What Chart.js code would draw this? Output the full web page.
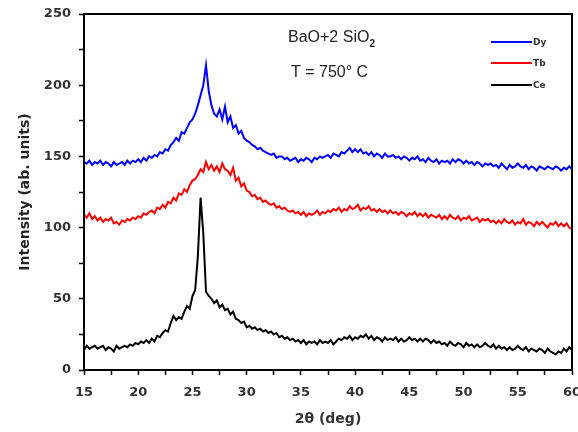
<!DOCTYPE html>
<html><head><meta charset="utf-8">
<script src="https://cdn.jsdelivr.net/npm/chart.js@4"></script>
</head><body style="margin:0"><canvas id="c" width="578" height="432"></canvas>
<script>
// 2θ sampling grid (deg)
const xStart = 15, xStep = 0.25, nPts = 181;
const seriesNames = ["Dy", "Tb", "Ce"];
const seriesColors = ["#0000ff", "#ff0000", "#000000"];
const xTickLabels = [15,20,25,30,35,40,45,50,55,60];
const yTickLabels = [0,50,100,150,200,250];
const xMinorStep = 2.5, yMinorStep = 25;

const dy = [146,145,147,144,146,145,147,144,146,
145,143,146,144,145,146,144,147,
145,147,146,148,146,149,147,150,
149,151,150,153, 152,155,154,158, 160,163,161,167, 166,170,174,176,
180,186,193,200, 214,196,186,180, 178,183,176,185, 174,178,170,172,
166,168,163,161, 160,158,157,155, 156,154,153,152, 151,152,149,150,
150,148,149,147, 148,149,146,148, 147,149,148,146, 149,148,150,149,
150,151,149,152, 151,150,153,152, 154,156,153,155, 153,155,152,153,
151,153,150,152, 151,149,152,150, 150,151,149,150, 148,150,149,147,
149,148,150,147, 148,146,149,147, 146,148,145,147, 146,147,145,148,
146,148,147,145, 147,145,146,144, 146,145,143,145, 144,145,143,144,
142,145,143,141, 144,142,143,145, 143,142,144,141, 143,142,140,143,
142,141,143,142, 141,143,142,140, 142,141,143,141];

const tb = [109,107,110,106,108,105,107,104,106,
105,107,103,104,102,105,104,106,
105,107,106,108,107,110,109,111,
112,110,114,113, 116,114,118,117, 121,119,124,123, 127,125,130,133,
134,137,141,139, 146,141,144,140, 143,139,145,141, 140,137,142,133,
135,129,131,126, 125,122,123,120, 121,118,119,117, 116,117,114,115,
113,114,112,111, 112,110,111,109, 111,108,110,109, 110,112,109,111,
110,112,111,113, 112,114,111,113, 112,115,113,114, 116,112,114,113,
115,112,113,111, 113,111,112,110, 112,110,111,109, 111,110,108,110,
109,111,108,110, 108,110,107,109, 108,107,109,106, 108,106,109,107,
106,108,105,107, 106,108,105,106, 107,104,106,105, 106,104,105,103,
105,103,106,104, 103,105,102,104, 103,106,102,104, 103,101,104,102,
104,102,100,103, 102,104,101,103, 101,103,100,99];

const ce = [14,17,15,16,17,15,16,17,14,
16,15,13,17,15,16,17,16,
18,17,19,18,20,19,21,19,
22,20,24,23, 26,28,27,33, 38,35,37,36, 41,45,43,52,
56,80,121,96, 55,52,50,47, 49,44,46,42, 43,39,41,36,
35,33,34,30, 31,29,30,28, 29,27,28,26, 27,25,26,23,
24,22,23,21, 22,20,21,19, 21,18,20,19, 20,18,21,19,
20,19,21,18, 20,22,21,23, 22,24,21,23, 22,24,23,25,
22,24,21,23, 22,20,23,21, 22,21,23,20, 22,20,21,23,
21,22,20,22, 20,22,21,19, 21,19,20,18, 19,17,20,18,
17,19,18,16, 19,17,18,16, 18,16,17,19, 17,16,18,15,
17,15,16,14, 16,14,15,17, 15,14,16,13, 15,14,13,15,
14,12,15,13, 12,11,13,12, 15,13,16,14];

const allSeries = [dy, tb, ce];
const twoTheta = Array.from({length: nPts}, (_, i) => xStart + i * xStep);

const datasets = allSeries.map((s, k) => ({
  label: seriesNames[k],
  data: s.map((v, i) => ({x: twoTheta[i], y: v})),
  borderColor: seriesColors[k],
  backgroundColor: seriesColors[k],
  borderWidth: 2,
  pointRadius: 0,
  tension: 0,
  fill: false
}));

const xMin = xTickLabels[0], xMax = xTickLabels[xTickLabels.length - 1];
const yMin = yTickLabels[0], yMax = yTickLabels[yTickLabels.length - 1];

function withMinor(labels, step) {
  const out = [];
  for (let v = labels[0]; v <= labels[labels.length - 1] + 1e-9; v += step) out.push({value: v});
  return out;
}

const tickFont = { family: 'DejaVu Sans', size: 13, weight: 'bold' };
const tickGrid = { display: true, drawOnChartArea: false, drawTicks: true, tickLength: 5, tickColor: '#000', tickWidth: 1.5 };
const frameBorder = { display: true, color: '#000', width: 2 };

const decoPlugin = {
  id: 'deco',
  afterDraw(chart) {
    const ctx = chart.ctx, a = chart.chartArea;
    ctx.save();
    // annotations
    ctx.fillStyle = '#222';
    ctx.textBaseline = 'alphabetic';
    ctx.textAlign = 'left';
    ctx.font = '16px "Liberation Sans", Arial, sans-serif';
    const t1 = 'BaO+2 SiO';
    ctx.fillText(t1, 288, 42);
    const w1 = ctx.measureText(t1).width;
    ctx.font = 'bold 10px "Liberation Sans", Arial, sans-serif';
    ctx.fillText('2', 288 + w1, 47);
    ctx.font = '16px "Liberation Sans", Arial, sans-serif';
    ctx.fillText('T = 750\u00B0 C', 291, 77);
    // legend
    const ly = [42, 63, 85];
    ctx.font = 'bold 9px "DejaVu Sans", sans-serif';
    ctx.textBaseline = 'middle';
    chart.data.datasets.forEach((d, k) => {
      ctx.fillStyle = d.borderColor;
      ctx.fillRect(491, ly[k] - 1, 41, 2);
      ctx.fillStyle = '#333';
      ctx.fillText(d.label, 533, ly[k] + 1);
    });
    // frame (drawn last)
    ctx.strokeStyle = '#000';
    ctx.lineWidth = 2;
    ctx.strokeRect(a.left, a.top, a.right - a.left, a.bottom - a.top);
    ctx.restore();
  }
};

new Chart(document.getElementById('c'), {
  type: 'line',
  data: { datasets },
  options: {
    responsive: false,
    animation: false,
    layout: { padding: 0 },
    plugins: { legend: { display: false }, tooltip: { enabled: false } },
    scales: {
      x: {
        type: 'linear', position: 'bottom', min: xMin, max: xMax,
        afterBuildTicks: s => { s.ticks = withMinor(xTickLabels, xMinorStep); },
        afterFit: s => { s.height = 62; s.paddingLeft = 0; s.paddingRight = 0; },
        grid: tickGrid,
        border: frameBorder,
        ticks: { padding: 10, color: '#333', font: tickFont, maxRotation: 0, autoSkip: false,
          callback: v => xTickLabels.includes(v) ? String(v) : '' },
        title: { display: true, text: '2\u03B8 (deg)', color: '#333', font: { family: 'DejaVu Sans', size: 14, weight: 'bold' }, padding: { top: 2 } }
      },
      x2: {
        type: 'linear', position: 'top', min: xMin, max: xMax,
        afterFit: s => { s.height = 14; s.paddingLeft = 0; s.paddingRight = 0; },
        grid: { display: false, drawTicks: false },
        border: frameBorder,
        ticks: { display: false }
      },
      y: {
        position: 'left', min: yMin, max: yMax,
        afterBuildTicks: s => { s.ticks = withMinor(yTickLabels, yMinorStep); },
        afterFit: s => { s.width = 84; s.paddingTop = 0; s.paddingBottom = 0; },
        grid: tickGrid,
        border: frameBorder,
        ticks: { padding: 8, color: '#333', font: tickFont, autoSkip: false,
          callback: v => yTickLabels.includes(v) ? String(v) : '' },
        title: { display: true, text: 'Intensity (ab. units)', color: '#222', font: { family: 'DejaVu Sans', size: 14, weight: 'bold' }, padding: { top: 17, bottom: 0 } }
      },
      y2: {
        position: 'right', min: yMin, max: yMax,
        afterFit: s => { s.width = 6; s.paddingTop = 0; s.paddingBottom = 0; },
        grid: { display: false, drawTicks: false },
        border: frameBorder,
        ticks: { display: false }
      }
    }
  },
  plugins: [decoPlugin]
});
</script></body></html>
